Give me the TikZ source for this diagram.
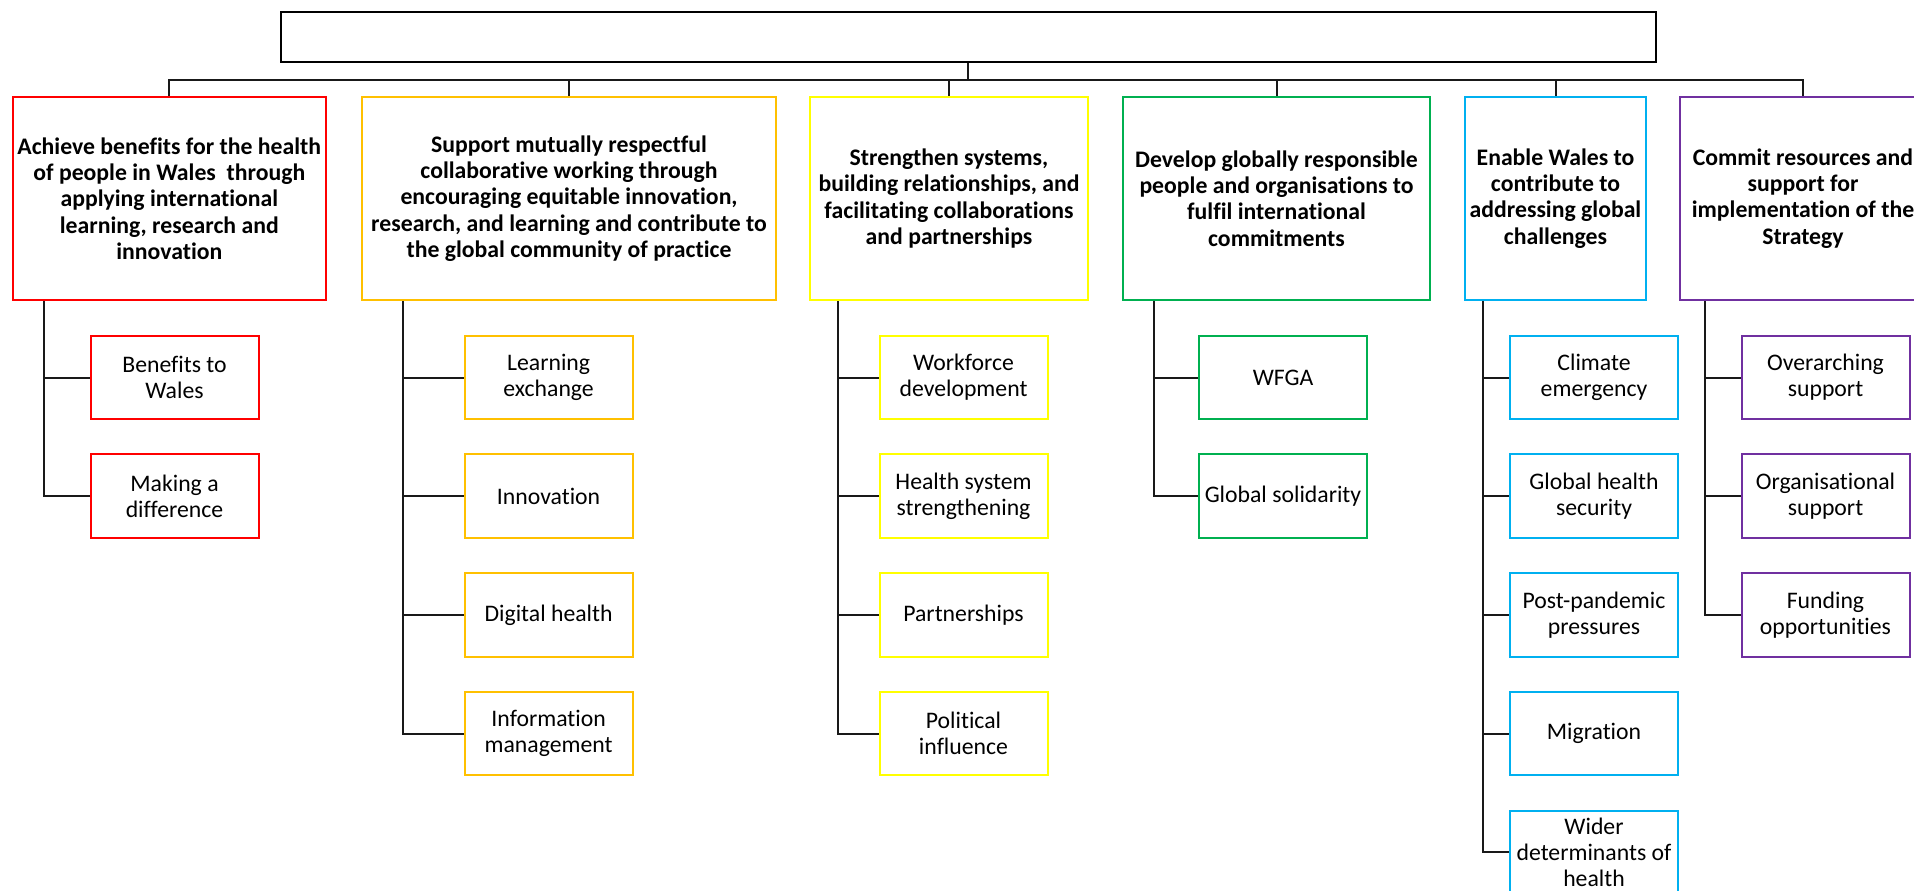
\documentclass[tikz,border=0pt]{standalone}
\usepackage{fontspec}
\setmainfont{Carlito}[Ligatures={NoCommon}]
\definecolor{cred}{HTML}{FF0000}
\definecolor{corange}{HTML}{FFC000}
\definecolor{cyellow}{HTML}{FFFF00}
\definecolor{cgreen}{HTML}{00B050}
\definecolor{cblue}{HTML}{00B0F0}
\definecolor{cpurple}{HTML}{7030A0}
\begin{document}
\begin{tikzpicture}[x=0.75pt,y=-0.75pt,
  box/.style={draw, line width=1.5pt, inner sep=0pt, align=center, font=\fontsize{17.8}{19.7}\selectfont},
  head/.style={box, font=\bfseries\fontsize{17.8}{19.7}\selectfont, minimum height=152.5pt},
  leaf/.style={box, minimum width=126pt, minimum height=62.6pt},
  link/.style={draw=black!90, line width=1.5pt}]
\useasboundingbox (0,0) rectangle (1914,890);
\fill[white] (0,0) rectangle (1914,890);

% root
\node[box, draw=black, minimum width=1030.9pt, minimum height=37.3pt] (top) at (968.3,37.2) {};

% level 1
\node[head, draw=cred, minimum width=235.1pt] (h1) at (169.3,198.5)
  {Achieve benefits for the health\\of people in Wales\ \ through\\applying international\\learning, research and\\innovation};
\node[head, draw=corange, minimum width=310.8pt] (h2) at (569,198.5)
  {Support mutually respectful\\collaborative working through\\encouraging equitable innovation,\\research, and learning and contribute to\\the global community of practice};
\node[head, draw=cyellow, minimum width=208.5pt] (h3) at (949,198.5)
  {Strengthen systems,\\building relationships, and\\facilitating collaborations\\and partnerships};
\node[head, draw=cgreen, minimum width=230.3pt] (h4) at (1276.5,198.5)
  {Develop globally responsible\\people and organisations to\\fulfil international\\commitments};
\node[head, draw=cblue, minimum width=135.8pt] (h5) at (1555.5,198.5)
  {Enable Wales to\\contribute to\\addressing global\\challenges};
\node[head, draw=cpurple, minimum width=184.5pt] (h6) at (1803,198.5)
  {Commit resources and\\support for\\implementation of the\\Strategy};

% level 2 - red
\node[leaf, draw=cred] (r1) at (174.5,377.5) {Benefits to\\Wales};
\node[leaf, draw=cred] (r2) at (174.5,496) {Making a\\difference};
% orange
\node[leaf, draw=corange] (o1) at (548.6,377.5) {Learning\\exchange};
\node[leaf, draw=corange] (o2) at (548.6,496) {Innovation};
\node[leaf, draw=corange] (o3) at (548.6,614.8) {Digital health};
\node[leaf, draw=corange] (o4) at (548.6,733.6) {Information\\management};
% yellow
\node[leaf, draw=cyellow] (y1) at (963.5,377.5) {Workforce\\development};
\node[leaf, draw=cyellow] (y2) at (963.5,496) {Health system\\strengthening};
\node[leaf, draw=cyellow] (y3) at (963.5,614.8) {Partnerships};
\node[leaf, draw=cyellow] (y4) at (963.5,733.6) {Political\\influence};
% green
\node[leaf, draw=cgreen] (g1) at (1283,377.5) {WFGA};
\node[leaf, draw=cgreen] (g2) at (1283,496) {Global solidarity};
% blue
\node[leaf, draw=cblue] (b1) at (1594,377.5) {Climate\\emergency};
\node[leaf, draw=cblue] (b2) at (1594,496) {Global health\\security};
\node[leaf, draw=cblue] (b3) at (1594,614.8) {Post-pandemic\\pressures};
\node[leaf, draw=cblue] (b4) at (1594,733.6) {Migration};
\node[leaf, draw=cblue] (b5) at (1594,852.4) {Wider\\determinants of\\health};
% purple
\node[leaf, draw=cpurple] (p1) at (1825.5,377.5) {Overarching\\support};
\node[leaf, draw=cpurple] (p2) at (1825.5,496) {Organisational\\support};
\node[leaf, draw=cpurple] (p3) at (1825.5,614.8) {Funding\\opportunities};

% bus
\path (top.south) ++(0,17.3) coordinate (bus);
\draw[link] (top.south) -- (bus);
\draw[link] (h1.north) -- (h1.north |- bus) -- (h6.north |- bus) -- (h6.north);
\foreach \h in {h2,h3,h4,h5} \draw[link] (\h.north) -- (\h.north |- bus);

% child spines
\coordinate (rv) at (43.75,0);
\coordinate (ov) at (402.7,0);
\coordinate (yv) at (838,0);
\coordinate (gv) at (1154,0);
\coordinate (bv) at (1483,0);
\coordinate (pv) at (1705,0);

\draw[link] (h1.south -| rv) |- (r2.west);
\draw[link] (r1.west -| rv) -- (r1.west);

\draw[link] (h2.south -| ov) |- (o4.west);
\foreach \c in {o1,o2,o3} \draw[link] (\c.west -| ov) -- (\c.west);

\draw[link] (h3.south -| yv) |- (y4.west);
\foreach \c in {y1,y2,y3} \draw[link] (\c.west -| yv) -- (\c.west);

\draw[link] (h4.south -| gv) |- (g2.west);
\draw[link] (g1.west -| gv) -- (g1.west);

\draw[link] (h5.south -| bv) |- (b5.west);
\foreach \c in {b1,b2,b3,b4} \draw[link] (\c.west -| bv) -- (\c.west);

\draw[link] (h6.south -| pv) |- (p3.west);
\foreach \c in {p1,p2} \draw[link] (\c.west -| pv) -- (\c.west);
\end{tikzpicture}
\end{document}
